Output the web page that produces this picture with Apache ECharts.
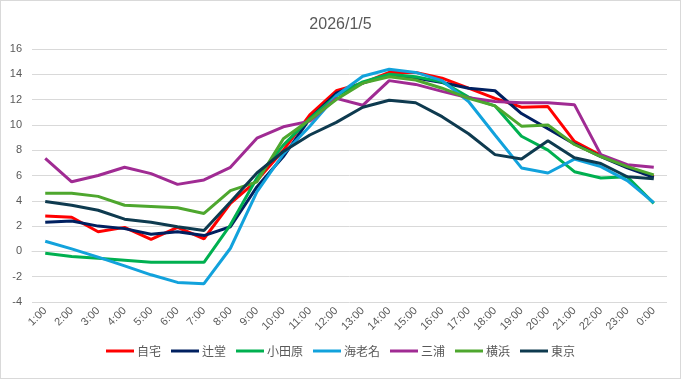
<!DOCTYPE html>
<html>
<head>
<meta charset="utf-8">
<script src="https://cdn.jsdelivr.net/npm/echarts@6/dist/echarts.min.js"></script>
<style>
html,body{margin:0;padding:0;background:#fff;}
#c{width:681px;height:379px;box-sizing:border-box;border:1px solid #d9d9d9;}
</style>
</head>
<body>
<div id="c"></div>
<script>
const title = "2026/1/5";
const hours = ["1:00","2:00","3:00","4:00","5:00","6:00","7:00","8:00","9:00","10:00","11:00","12:00","13:00","14:00","15:00","16:00","17:00","18:00","19:00","20:00","21:00","22:00","23:00","0:00"];
const names = ["自宅","辻堂","小田原","海老名","三浦","横浜","東京"];
const jitaku  = [2.8,2.7,1.55,1.9,0.95,1.9,1.0,3.8,5.6,8.0,10.8,12.7,13.3,14.15,14.15,13.7,12.9,12.1,11.4,11.45,8.7,7.6,6.7,5.9];
const tsujido = [2.3,2.4,2.0,1.8,1.35,1.55,1.25,1.95,5.1,7.5,10.5,12.5,13.3,13.95,13.7,13.35,12.9,12.7,10.9,9.7,8.5,7.5,6.6,5.85];
const odawara = [-0.15,-0.4,-0.55,-0.7,-0.85,-0.86,-0.86,2.1,5.8,8.4,10.5,12.3,13.4,14.0,13.8,13.4,12.2,11.5,9.1,8.0,6.3,5.8,5.9,3.8];
const ebina   = [0.8,0.2,-0.45,-1.15,-1.85,-2.45,-2.55,0.25,4.7,7.7,9.9,12.3,13.85,14.4,14.15,13.5,11.85,9.2,6.6,6.2,7.3,6.7,5.6,3.85];
const miura   = [7.35,5.5,6.0,6.65,6.15,5.3,5.65,6.65,8.95,9.85,10.3,12.1,11.55,13.5,13.2,12.65,12.15,11.85,11.75,11.75,11.6,7.65,6.85,6.65];
const yokohama= [4.6,4.6,4.35,3.65,3.55,3.45,3.0,4.8,5.5,8.9,10.4,12.0,13.3,13.8,13.55,12.9,12.1,11.5,9.9,10.0,8.45,7.5,6.7,6.05];
const tokyo   = [3.95,3.65,3.25,2.55,2.3,1.95,1.65,3.9,6.2,7.9,9.2,10.2,11.4,11.95,11.75,10.65,9.3,7.65,7.3,8.75,7.4,6.95,5.9,5.75];
const seriesData = [jitaku,tsujido,odawara,ebina,miura,yokohama,tokyo];
const colors = ["#FF0000","#002060","#00B050","#12A2DC","#A02B93","#4EA72E","#0E3A4F"];

const chart = echarts.init(document.getElementById('c'), null, {renderer:'canvas'});
chart.setOption({
  animation:false,
  color: colors,
  title:{text:title,left:'center',top:11,textStyle:{fontFamily:'Liberation Sans, Arial, sans-serif',fontSize:16,fontWeight:'normal',color:'#595959'}},
  grid:{left:31,right:13,top:48,bottom:76,containLabel:false},
  legend:{
    data:names,bottom:16,left:'center',icon:'rect',itemWidth:28,itemHeight:3,itemGap:10,
    textStyle:{fontFamily:'Noto Sans CJK JP, sans-serif',fontSize:12,color:'#595959',padding:[0,0,0,-2]}
  },
  xAxis:{
    type:'category',data:hours,boundaryGap:true,
    axisLine:{show:true,lineStyle:{color:'#d9d9d9'}},axisTick:{show:false},
    axisLabel:{rotate:45,fontSize:11,color:'#595959',margin:7,fontFamily:'Liberation Sans, Arial, sans-serif',interval:0}
  },
  yAxis:{
    type:'value',min:-4,max:16,interval:2,
    axisLine:{show:false},axisTick:{show:false},
    splitLine:{lineStyle:{color:'#d9d9d9',width:1}},
    axisLabel:{fontSize:11,color:'#595959',margin:10,fontFamily:'Liberation Sans, Arial, sans-serif'}
  },
  series: names.map((n,i)=>({
    name:n,type:'line',data:seriesData[i],symbol:'none',showSymbol:false,
    lineStyle:{width:3,color:colors[i]},itemStyle:{color:colors[i]}
  }))
});
</script>
</body>
</html>
